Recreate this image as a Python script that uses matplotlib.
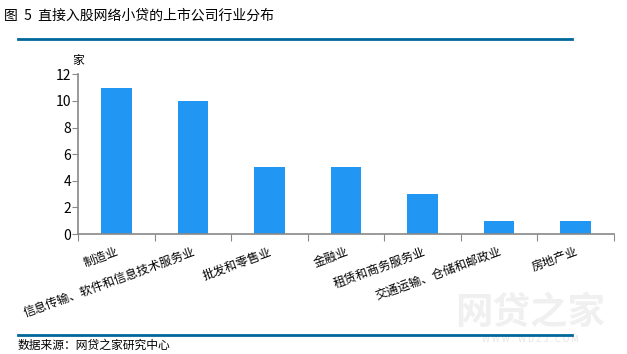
import matplotlib.pyplot as plt
import numpy as np

plt.rcParams['font.family'] = ['Noto Sans CJK SC', 'DejaVu Sans']

# data
industries = ['制造业', '信息传输、软件和信息技术服务业', '批发和零售业', '金融业',
              '租赁和商务服务业', '交通运输、仓储和邮政业', '房地产业']
counts = [11, 10, 5, 5, 3, 1, 1]
y_ticks = [0, 2, 4, 6, 8, 10, 12]

bar_color = '#2196f3'
line_color = '#00689a'
axis_gray = '#888888'

fig = plt.figure(figsize=(6.27, 3.54), dpi=100)
ax = fig.add_axes([78 / 627, 1 - 234 / 354, (614 - 78) / 627, (234 - 74.3) / 354])

x = np.arange(len(industries))
ax.bar(x, counts, width=0.4, color=bar_color)

ax.set_xlim(-0.5, len(industries) - 0.5)
ax.set_ylim(0, 12)
ax.set_yticks(y_ticks)
ax.tick_params(axis='y', length=4, color=axis_gray, labelsize=10, pad=1)

# ticks on category boundaries, labels at the centres
ax.set_xticks(np.arange(len(industries) + 1) - 0.5)
ax.set_xticklabels([])
ax.tick_params(axis='x', which='major', length=5, color=axis_gray)
ax.set_xticks(x, minor=True)
ax.set_xticklabels(industries, minor=True, rotation=20, ha='right',
                   rotation_mode='anchor', fontsize=8.7)
ax.tick_params(axis='x', which='minor', length=0, pad=8)

for s in ['top', 'right']:
    ax.spines[s].set_visible(False)
for s in ['left', 'bottom']:
    ax.spines[s].set_color(axis_gray)
    ax.spines[s].set_linewidth(1.2)

# unit
fig.text(78 / 627, 1 - 60 / 354, '家', fontsize=8.5, ha='center', va='center')

# title and source
fig.text(4 / 627, 1 - 16 / 354, '图  5  直接入股网络小贷的上市公司行业分布', fontsize=10,
         ha='left', va='center')
fig.text(18 / 627, 1 - 345 / 354, '数据来源：网贷之家研究中心', fontsize=8.5,
         ha='left', va='center')
fig.add_artist(plt.Line2D([18 / 627, 572 / 627], [1 - 39 / 354] * 2, color=line_color, lw=2))
fig.add_artist(plt.Line2D([18 / 627, 572 / 627], [1 - 334.5 / 354] * 2, color=line_color, lw=2))

# watermark
fig.text(530 / 627, 1 - 312 / 354, '网贷之家', fontsize=27, fontweight='bold',
         color='#f0f0f0', ha='center', va='center', zorder=0)
fig.text(530 / 627, 1 - 339 / 354, 'W W W .  W D Z J . C O M', fontsize=6.5,
         color='#e4e4e4', ha='center', va='center', zorder=0)

fig.savefig('out.png', dpi=100)
